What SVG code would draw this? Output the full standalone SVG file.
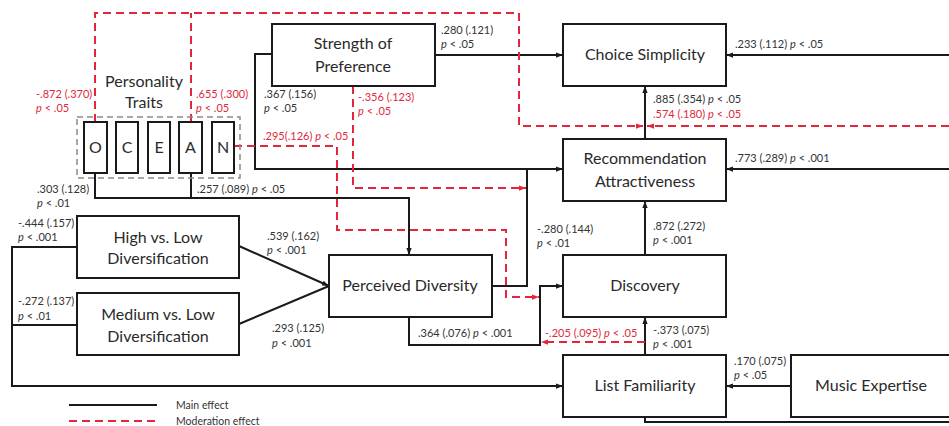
<svg xmlns="http://www.w3.org/2000/svg" width="949" height="426" viewBox="0 0 949 426">
  <style>
    .box { fill: #fff; stroke: #1a1a1a; stroke-width: 2; }
    .trait { fill: #fff; stroke: #1a1a1a; stroke-width: 2; }
    .group { fill: none; stroke: #8a8a8a; stroke-width: 1.5; stroke-dasharray: 6 4; }
    .node { font-family: Lato, "Liberation Sans", sans-serif; font-size: 16px; fill: #2a2a2a; text-anchor: middle; }
    .lbl { font-family: Lato, "Liberation Sans", sans-serif; font-size: 11px; fill: #333; }
    .red { fill: #e0283c; }
    .main { fill: none; stroke: #1a1a1a; stroke-width: 2; }
    .mod { fill: none; stroke: #e3263a; stroke-width: 2; stroke-dasharray: 8 5; }
    .legend { font-family: Lato, "Liberation Sans", sans-serif; font-size: 10.5px; fill: #333; }
  </style>
  <defs>
    <marker id="ah" viewBox="0 0 8 8" refX="8" refY="4" markerWidth="7" markerHeight="7" markerUnits="userSpaceOnUse" orient="auto">
      <path d="M0,1 L8,4 L0,7 z" fill="#1a1a1a"/>
    </marker>
    <marker id="ahr" viewBox="0 0 8 8" refX="8" refY="4" markerWidth="7" markerHeight="7" markerUnits="userSpaceOnUse" orient="auto">
      <path d="M0,1 L8,4 L0,7 z" fill="#e3263a"/>
    </marker>
  </defs>

  <!-- connectors -->
  <g id="connectors">
    <!-- main effects -->
    <path class="main" d="M435,55 H563" marker-end="url(#ah)"/>
    <path class="main" d="M272,54 H255 V169 H563" marker-end="url(#ah)"/>
    <path class="main" d="M492,286 H527 V169"/>
    <path class="main" d="M409,317 V345 H540 V286 H563" marker-end="url(#ah)"/>
    <path class="main" d="M95,173 V198 H409 V255" marker-end="url(#ah)"/>
    <path class="main" d="M191,173 V198"/>
    <path class="main" d="M239,246 L329,286" marker-end="url(#ah)"/>
    <path class="main" d="M239,324 L329,286"/>
    <path class="main" d="M77,247 H12 V386 H563" marker-end="url(#ah)"/>
    <path class="main" d="M77,325 H12"/>
    <path class="main" d="M645,355 V317" marker-end="url(#ah)"/>
    <path class="main" d="M645,255 V201" marker-end="url(#ah)"/>
    <path class="main" d="M645,139 V86" marker-end="url(#ah)"/>
    <path class="main" d="M791,386 H726" marker-end="url(#ah)"/>
    <path class="main" d="M949,55 H726" marker-end="url(#ah)"/>
    <path class="main" d="M949,169 H726" marker-end="url(#ah)"/>
    <path class="main" d="M645,417 V422 H949"/>

    <!-- moderation effects -->
    <path class="mod" d="M95,122 V13 H519 V126 H643" marker-end="url(#ahr)"/>
    <path class="mod" d="M191,122 V13"/>
    <path class="mod" d="M949,126 H647" marker-end="url(#ahr)"/>
    <path class="mod" d="M234,146 H337 V230 H506 V297 H539" marker-end="url(#ahr)"/>
    <path class="mod" d="M353,86 V188 H526" marker-end="url(#ahr)"/>
    <path class="mod" d="M645,342 H541" marker-end="url(#ahr)"/>
  </g>

  <!-- path coefficients -->
  <g id="coefficients">
    <text class="lbl red" x="36" y="98">-.872 (.370)</text>
    <text class="lbl red" x="36" y="112"><tspan font-style="italic">p</tspan> &lt; .05</text>
    <text class="lbl red" x="196" y="98">.655 (.300)</text>
    <text class="lbl red" x="196" y="112"><tspan font-style="italic">p</tspan> &lt; .05</text>
    <text class="lbl" x="264" y="98">.367 (.156)</text>
    <text class="lbl" x="264" y="112"><tspan font-style="italic">p</tspan> &lt; .05</text>
    <text class="lbl red" x="263" y="140">.295(.126) <tspan font-style="italic">p</tspan> &lt; .05</text>
    <text class="lbl red" x="358" y="101">-.356 (.123)</text>
    <text class="lbl red" x="358" y="115"><tspan font-style="italic">p</tspan> &lt; .05</text>
    <text class="lbl" x="441" y="34">.280 (.121)</text>
    <text class="lbl" x="441" y="48"><tspan font-style="italic">p</tspan> &lt; .05</text>
    <text class="lbl" x="735" y="48">.233 (.112) <tspan font-style="italic">p</tspan> &lt; .05</text>
    <text class="lbl" x="653" y="103">.885 (.354) <tspan font-style="italic">p</tspan> &lt; .05</text>
    <text class="lbl red" x="653" y="118">.574 (.180) <tspan font-style="italic">p</tspan> &lt; .05</text>
    <text class="lbl" x="735" y="162">.773 (.289) <tspan font-style="italic">p</tspan> &lt; .001</text>
    <text class="lbl" x="37" y="193">.303 (.128)</text>
    <text class="lbl" x="37" y="207"><tspan font-style="italic">p</tspan> &lt; .01</text>
    <text class="lbl" x="197" y="193">.257 (.089) <tspan font-style="italic">p</tspan> &lt; .05</text>
    <text class="lbl" x="18" y="227">-.444 (.157)</text>
    <text class="lbl" x="18" y="241"><tspan font-style="italic">p</tspan> &lt; .001</text>
    <text class="lbl" x="18" y="305">-.272 (.137)</text>
    <text class="lbl" x="18" y="320"><tspan font-style="italic">p</tspan> &lt; .01</text>
    <text class="lbl" x="267" y="240">.539 (.162)</text>
    <text class="lbl" x="267" y="254"><tspan font-style="italic">p</tspan> &lt; .001</text>
    <text class="lbl" x="272" y="332">.293 (.125)</text>
    <text class="lbl" x="272" y="347"><tspan font-style="italic">p</tspan> &lt; .001</text>
    <text class="lbl" x="537" y="233">-.280 (.144)</text>
    <text class="lbl" x="537" y="247"><tspan font-style="italic">p</tspan> &lt; .01</text>
    <text class="lbl" x="418" y="337">.364 (.076) <tspan font-style="italic">p</tspan> &lt; .001</text>
    <text class="lbl red" x="545" y="337">-.205 (.095) <tspan font-style="italic">p</tspan> &lt; .05</text>
    <text class="lbl" x="653" y="230">.872 (.272)</text>
    <text class="lbl" x="653" y="244"><tspan font-style="italic">p</tspan> &lt; .001</text>
    <text class="lbl" x="653" y="334">-.373 (.075)</text>
    <text class="lbl" x="653" y="348"><tspan font-style="italic">p</tspan> &lt; .001</text>
    <text class="lbl" x="734" y="365">.170 (.075)</text>
    <text class="lbl" x="734" y="379"><tspan font-style="italic">p</tspan> &lt; .05</text>
  </g>

  <!-- nodes -->
  <g id="strength-of-preference">
    <rect class="box" x="272" y="24" width="163" height="62"/>
    <text class="node" x="353" y="49">Strength of</text>
    <text class="node" x="353" y="72">Preference</text>
  </g>
  <g id="choice-simplicity">
    <rect class="box" x="563" y="24" width="163" height="62"/>
    <text class="node" x="645" y="60">Choice Simplicity</text>
  </g>
  <g id="recommendation-attractiveness">
    <rect class="box" x="563" y="139" width="163" height="62"/>
    <text class="node" x="645" y="164">Recommendation</text>
    <text class="node" x="645" y="187">Attractiveness</text>
  </g>
  <g id="discovery">
    <rect class="box" x="563" y="255" width="163" height="62"/>
    <text class="node" x="645" y="291">Discovery</text>
  </g>
  <g id="list-familiarity">
    <rect class="box" x="563" y="355" width="163" height="62"/>
    <text class="node" x="645" y="391">List Familiarity</text>
  </g>
  <g id="music-expertise">
    <rect class="box" x="791" y="355" width="170" height="62"/>
    <text class="node" x="871" y="391">Music Expertise</text>
  </g>
  <g id="perceived-diversity">
    <rect class="box" x="329" y="255" width="163" height="62"/>
    <text class="node" x="410" y="291">Perceived Diversity</text>
  </g>
  <g id="high-vs-low">
    <rect class="box" x="77" y="216" width="162" height="62"/>
    <text class="node" x="158" y="243">High vs. Low</text>
    <text class="node" x="158" y="264">Diversification</text>
  </g>
  <g id="medium-vs-low">
    <rect class="box" x="77" y="293" width="162" height="62"/>
    <text class="node" x="158" y="320">Medium vs. Low</text>
    <text class="node" x="158" y="342">Diversification</text>
  </g>
  <g id="personality-traits">
    <rect class="group" x="77" y="117" width="163" height="61"/>
    <text class="node" x="144" y="87">Personality</text>
    <text class="node" x="144" y="108">Traits</text>
    <rect class="trait" x="84" y="122" width="23" height="51"/>
    <text class="node" x="95.5" y="153">O</text>
    <rect class="trait" x="116" y="122" width="22" height="51"/>
    <text class="node" x="127" y="153">C</text>
    <rect class="trait" x="148" y="122" width="22" height="51"/>
    <text class="node" x="159" y="153">E</text>
    <rect class="trait" x="179" y="122" width="23" height="51"/>
    <text class="node" x="190.5" y="153">A</text>
    <rect class="trait" x="212" y="122" width="22" height="51"/>
    <text class="node" x="223" y="153">N</text>
  </g>

  <!-- legend -->
  <g id="legend">
    <line class="main" x1="69" y1="405" x2="157" y2="405"/>
    <text class="legend" x="176" y="409">Main effect</text>
    <line class="mod" x1="69" y1="421" x2="157" y2="421"/>
    <text class="legend" x="176" y="425">Moderation effect</text>
  </g>
</svg>
